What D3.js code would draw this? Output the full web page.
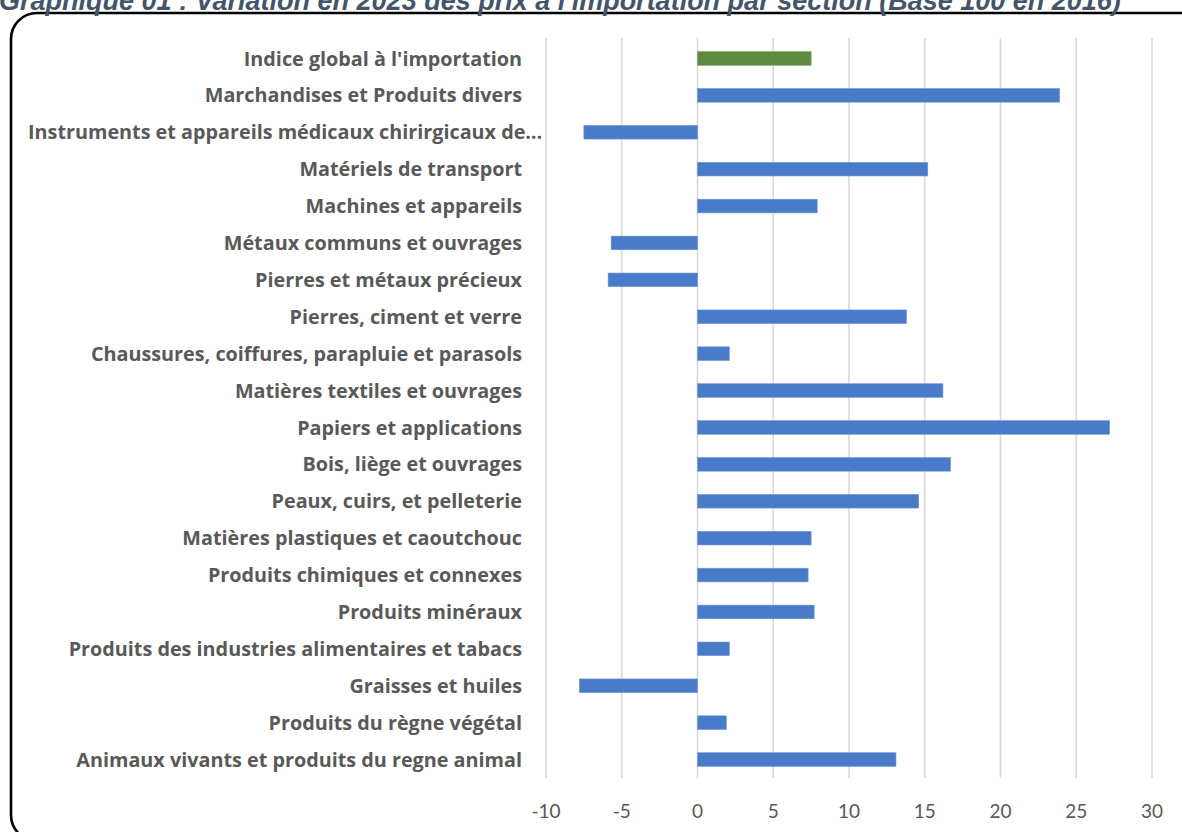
<!DOCTYPE html>
<html lang="fr">
<head>
<meta charset="utf-8">
<title>Variation des prix à l'importation par section</title>
<script src="https://cdn.jsdelivr.net/npm/d3@7/dist/d3.min.js"></script>
<style>
  html, body { margin: 0; padding: 0; background: #ffffff; overflow: hidden; }
  svg { display: block; }
</style>
</head>
<body>
<div id="chart"></div>
<script>
// Sections, top to bottom, and their 2023 price variation (%)
const sections = [
  "Indice global à l'importation",
  "Marchandises et Produits divers",
  "Instruments et appareils médicaux chirirgicaux de…",
  "Matériels de transport",
  "Machines et appareils",
  "Métaux communs et ouvrages",
  "Pierres et métaux précieux",
  "Pierres, ciment et verre",
  "Chaussures, coiffures, parapluie et parasols",
  "Matières textiles et ouvrages",
  "Papiers et applications",
  "Bois, liège et ouvrages",
  "Peaux, cuirs, et pelleterie",
  "Matières plastiques et caoutchouc",
  "Produits chimiques et connexes",
  "Produits minéraux",
  "Produits des industries alimentaires et tabacs",
  "Graisses et huiles",
  "Produits du règne végétal",
  "Animaux vivants et produits du regne animal"
];
const variations = [
  7.5, 23.9, -7.5, 15.2, 7.9, -5.7, -5.9, 13.8, 2.1, 16.2,
  27.2, 16.7, 14.6, 7.5, 7.3, 7.7, 2.1, -7.8, 1.9, 13.1
];
const totalSection = "Indice global à l'importation";
const xTicks = [-10, -5, 0, 5, 10, 15, 20, 25, 30];
const titleText = "Graphique 01 : Variation en 2023 des prix à l'importation par section (Base 100 en 2016)";

const W = 1182, H = 832;
const plot = { left: 546, right: 1152, top: 40, bottom: 778 };
const labelRight = 522;
const labelMinX = 28;

const svg = d3.select("#chart").append("svg")
  .attr("width", W).attr("height", H);

// Rounded frame
svg.append("rect")
  .attr("x", 11).attr("y", 13)
  .attr("width", 1200).attr("height", 828)
  .attr("rx", 26).attr("ry", 26)
  .attr("fill", "none").attr("stroke", "#000").attr("stroke-width", 2.6);

// Title (sits above the frame)
svg.append("text")
  .attr("x", -1).attr("y", 10)
  .attr("font-family", "'Liberation Sans', Arial, sans-serif")
  .attr("font-weight", "bold").attr("font-style", "italic")
  .attr("font-size", 27)
  .attr("fill", "#44546A")
  .text(titleText);

const x = d3.scaleLinear().domain([-10, 30]).range([plot.left, plot.right]);
const y = d3.scaleBand().domain(sections).range([plot.top, plot.bottom])
  .paddingInner(0.63).paddingOuter(0.315);

const data = sections.map((s, i) => ({ section: s, value: variations[i] }));

// Vertical gridlines
svg.append("g").selectAll("line").data(xTicks).join("line")
  .attr("x1", d => x(d)).attr("x2", d => x(d))
  .attr("y1", plot.top - 2).attr("y2", plot.bottom)
  .attr("stroke", "#d9d9d9").attr("stroke-width", 1.6);

// Bars
svg.append("g").selectAll("rect").data(data).join("rect")
  .attr("x", d => x(Math.min(0, d.value)))
  .attr("y", d => y(d.section))
  .attr("width", d => Math.abs(x(d.value) - x(0)))
  .attr("height", y.bandwidth())
  .attr("fill", d => d.section === totalSection ? "#5E8B41" : "#4A7BC9")
  .attr("stroke", d => d.section === totalSection ? "#7aa25e" : "#6f96d6")
  .attr("stroke-width", 0.6);

// Category labels
const labels = svg.append("g").selectAll("text").data(data).join("text")
  .attr("x", labelRight)
  .attr("y", d => y(d.section) + y.bandwidth() / 2)
  .attr("dy", "0.36em")
  .attr("text-anchor", "end")
  .attr("font-family", "'Open Sans', Lato, sans-serif")
  .attr("font-weight", "bold")
  .attr("font-size", 19.8)
  .attr("fill", "#595959")
  .text(d => d.section);

// Labels too long for the space are left-aligned instead
labels.each(function () {
  const w = this.getComputedTextLength();
  if (labelRight - w < labelMinX) {
    d3.select(this).attr("x", labelMinX).attr("text-anchor", "start");
  }
});

// X-axis tick labels
svg.append("g").selectAll("text").data(xTicks).join("text")
  .attr("x", d => x(d))
  .attr("y", 811)
  .attr("dy", "0.35em")
  .attr("text-anchor", "middle")
  .attr("font-family", "Lato, 'Open Sans', sans-serif")
  .attr("font-size", 19)
  .attr("fill", "#595959")
  .text(d => d);
</script>
</body>
</html>
